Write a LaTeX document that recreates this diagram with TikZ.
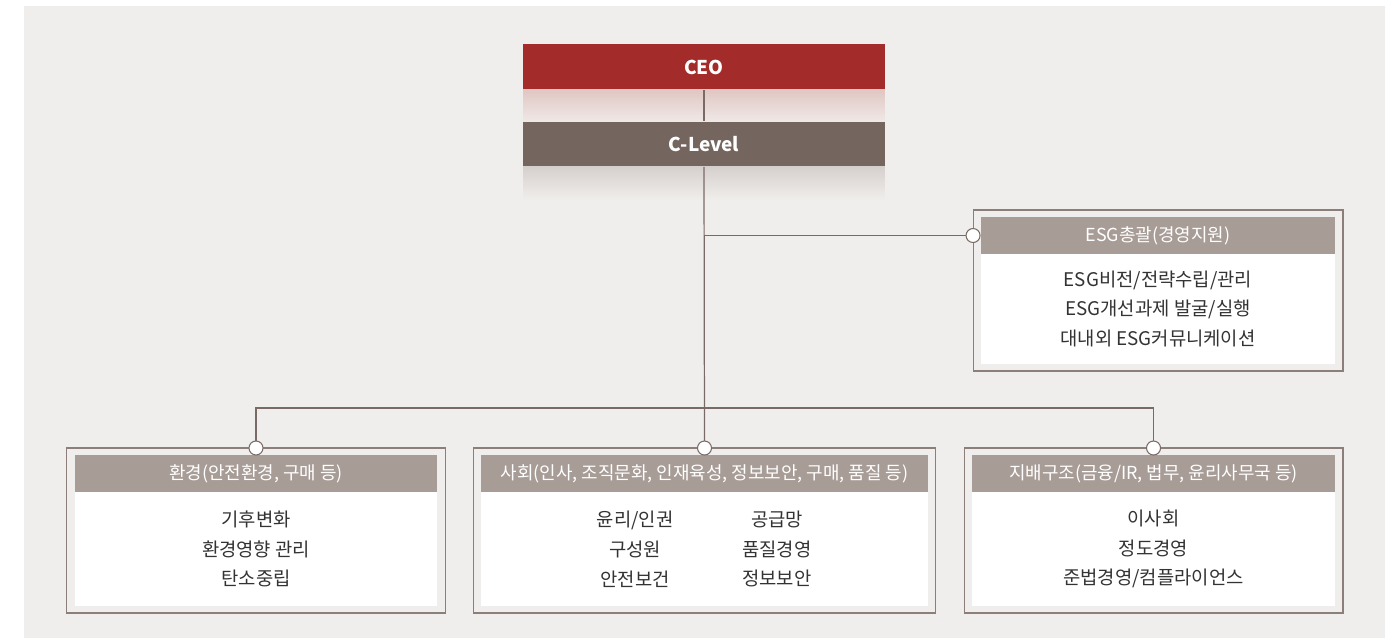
\documentclass[tikz,border=0pt]{standalone}
\usepackage{fontspec}
\setmainfont{Noto Sans CJK KR}
\usetikzlibrary{positioning}
\definecolor{bgray}{HTML}{F0EEEC}
\definecolor{ceored}{HTML}{A32B29}
\definecolor{levelgray}{HTML}{75655F}
\definecolor{hdrgray}{HTML}{A89C97}
\definecolor{linegray}{HTML}{7A6A66}
\definecolor{framegray}{HTML}{8C7F7A}
\definecolor{textgray}{HTML}{333333}
\begin{document}
\begin{tikzpicture}[x=0.02cm,y=-0.02cm,node distance=0.14cm]
\tikzstyle{topbox}=[rectangle,inner sep=0,outer sep=0,minimum width=7.24cm,minimum height=0.92cm,text=white,font=\bfseries\fontsize{10.8pt}{13pt}\selectfont]
\tikzstyle{frame}=[rectangle,draw=framegray,line width=0.6pt,fill=bgray,inner sep=0,outer sep=0]
\tikzstyle{hdr}=[rectangle,fill=hdrgray,inner sep=0,outer sep=0,minimum height=0.74cm,text=white,font=\fontsize{10.2pt}{12pt}\selectfont]
\tikzstyle{cell}=[rectangle,fill=white,inner sep=0,outer sep=0,align=center,text=textgray,font=\fontsize{10.7pt}{17pt}\selectfont]
\tikzstyle{item}=[align=center,inner sep=0,text=textgray,font=\fontsize{10.7pt}{17pt}\selectfont]
\tikzstyle{dot}=[circle,draw=linegray,line width=0.6pt,fill=white,inner sep=0,minimum size=0.28cm]
\tikzstyle{link}=[draw=linegray,line width=0.7pt]

\useasboundingbox (0,0) rectangle (1398,638);
\fill[bgray] (24,6) rectangle (1385,638);

% Top of the chart
\node[topbox,fill=ceored] (CEO) at (704,67) {CEO};
\node[topbox,fill=levelgray] (CLevel) at (704,144) {C-Level};
\shade[top color={rgb,255:red,224;green,199;blue,195},bottom color={rgb,255:red,239;green,232;blue,230}]
  (CEO.south west) rectangle (CLevel.north east);
\shade[top color={rgb,255:red,214;green,208;blue,205},bottom color=bgray]
  (CLevel.south west) rectangle ([yshift=-0.66cm]CLevel.south east);

% ESG box
\node[frame,minimum width=7.4cm,minimum height=3.22cm] (EsgFrame) at (1158,290.5) {};
\node[hdr,minimum width=7.1cm,below=of EsgFrame.north] (EsgHead) {ESG총괄(경영지원)};
\node[cell,minimum width=7.1cm,minimum height=2.2cm,below=0cm of EsgHead] (EsgBody)
  {ESG비전/전략수립/관리\\ESG개선과제 발굴/실행\\대내외 ESG커뮤니케이션};

% Bottom row
\node[frame,minimum width=7.6cm,minimum height=3.3cm] (EnvFrame) at (256,530.5) {};
\node[hdr,minimum width=7.26cm,below=of EnvFrame.north] (EnvHead) {환경(안전환경, 구매 등)};
\node[cell,minimum width=7.26cm,minimum height=2.28cm,below=0cm of EnvHead] (EnvBody)
  {기후변화\\환경영향 관리\\탄소중립};

\node[frame,minimum width=9.26cm,minimum height=3.3cm] (SocFrame) at (704.5,530.5) {};
\node[hdr,minimum width=8.94cm,below=of SocFrame.north] (SocHead) {사회(인사, 조직문화, 인재육성, 정보보안, 구매, 품질 등)};
\node[cell,minimum width=8.94cm,minimum height=2.28cm,below=0cm of SocHead] (SocBody) {};
\node[item,xshift=-1.39cm] (SocLeft) at (SocBody.center) {윤리/인권\\구성원\\안전보건};
\node[item,xshift=1.45cm] (SocRight) at (SocBody.center) {공급망\\품질경영\\정보보안};

\node[frame,minimum width=7.58cm,minimum height=3.3cm] (GovFrame) at (1153.5,530.5) {};
\node[hdr,minimum width=7.26cm,below=of GovFrame.north] (GovHead) {지배구조(금융/IR, 법무, 윤리사무국 등)};
\node[cell,minimum width=7.26cm,minimum height=2.28cm,below=0cm of GovHead] (GovBody)
  {이사회\\정도경영\\준법경영/컴플라이언스};

% Connectors
\coordinate (bus) at (704,408);
\coordinate (EsgJoin) at (CLevel.south |- EsgHead.center);
\draw[link] (CEO.south) -- (CLevel.north);
\draw[link] (CLevel.south) -- (SocFrame.north);
\draw[link] (EsgJoin) -- (EsgFrame.west |- EsgHead.center);
\draw[link] (EnvFrame.north) |- (bus) -| (GovFrame.north);

\node[dot] (EsgDot) at (EsgFrame.west |- EsgHead.center) {};
\node[dot] (EnvDot) at (EnvFrame.north) {};
\node[dot] (SocDot) at (SocFrame.north) {};
\node[dot] (GovDot) at (GovFrame.north) {};
\end{tikzpicture}
\end{document}
